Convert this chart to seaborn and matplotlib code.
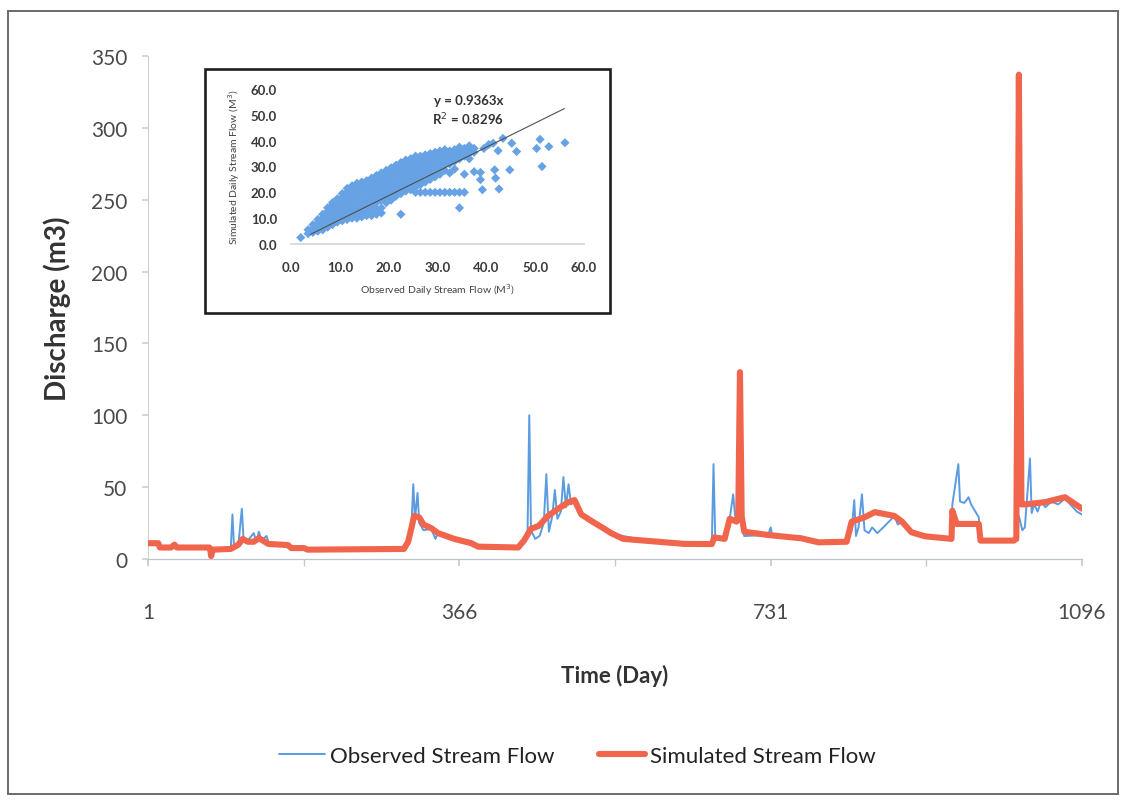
import numpy as np
import pandas as pd
import matplotlib
matplotlib.use("Agg")
import matplotlib.pyplot as plt
import seaborn as sns
from matplotlib.patches import Rectangle
from matplotlib.lines import Line2D

sns.set_theme(style="white")
plt.rcParams['font.family'] = ['Lato', 'DejaVu Sans']

# ---- daily discharge (day index, m3) ----
obs_day = [1, 13, 15, 73, 75, 77, 98, 100, 102, 107, 111, 113, 118, 125, 128, 131, 134, 140, 143,
           165, 169, 188, 301, 306, 310, 312, 314, 317, 319, 324, 333, 338, 341, 360, 380, 388,
           435, 442, 446, 448, 450, 455, 460, 465, 468, 471, 475, 478, 481, 485, 488, 491, 494,
           497, 501, 509, 521, 536, 544, 558, 575, 630, 662, 664, 666, 677, 683, 687, 690, 695,
           700, 728, 731, 733, 767, 787, 820, 826, 829, 831, 834, 838, 841, 846, 850, 856, 863,
           873, 876, 880, 885, 896, 912, 943, 944, 951, 953, 958, 963, 966, 975, 977, 1016,
           1019, 1022, 1026, 1029, 1035, 1037, 1040, 1044, 1048, 1053, 1060, 1068, 1076, 1090, 1096]
obs_flow = [11, 11, 8, 8, 2, 6.5, 7, 31, 7, 10, 35, 14, 13, 18, 12, 19, 13, 16, 10,
            9.7, 7.6, 6.5, 7, 12, 25, 52, 28, 46, 25, 20, 21, 14, 18, 14, 11, 8.6,
            8, 13, 20, 100, 20, 14, 16, 25, 59, 19, 30, 48, 28, 33, 57, 36, 52,
            38, 40, 31, 26.4, 21, 18, 16, 14, 10.5, 10.4, 66, 15, 14, 28, 45, 26, 28,
            16, 16.7, 22, 16, 14.4, 11.6, 12, 20, 41, 16, 22, 45, 20, 18, 22, 18, 22,
            28, 30, 24, 26, 18.6, 15.8, 14, 38, 66, 40, 39, 43, 38, 29, 12.8, 12.8,
            14, 30, 20, 22, 70, 32, 38, 33, 40, 36, 40, 38, 42, 33, 31]

sim_day = [1, 13, 15, 28, 32, 35, 73, 74, 75, 77, 98, 107, 112, 118, 125, 131, 142, 165, 169, 184,
           188, 301, 306, 310, 313, 319, 324, 333, 341, 360, 380, 388, 435, 442, 450, 459, 470,
           482, 494, 501, 509, 521, 536, 544, 558, 630, 662, 665, 677, 683, 691, 693, 695, 697,
           700, 728, 767, 787, 820, 826, 841, 853, 876, 885, 896, 912, 943, 944, 949, 975, 977,
           1016, 1019, 1022, 1025, 1029, 1053, 1076, 1096]
sim_flow = [11, 11, 8, 8, 10, 8, 8, 6.5, 2, 6.5, 7, 10, 14, 12, 12, 14.5, 10.5, 9.7, 7.6, 7.6,
            6.5, 7, 12, 22, 30, 29, 24, 21.5, 18, 14, 11, 8.6, 8, 13, 21, 23, 30,
            35, 39.6, 41, 31, 26.4, 21, 18, 14, 10.5, 10.4, 15, 14, 28, 26, 30, 130, 30,
            19, 16.7, 14.4, 11.6, 12, 26, 29, 32.6, 30, 26, 18.6, 15.8, 14, 33.6, 24.4, 24.4, 12.8,
            12.8, 14, 337, 38, 38, 39.6, 43, 35]

x_ticks = [1, 366, 731, 1096]
x_minor = [183.5, 548.5, 913.5]
y_ticks = [0, 50, 100, 150, 200, 250, 300, 350]

# ---- observed vs simulated scatter (columns of simulated values per observed value) ----
inset_obs_x = [2.0, 3.5, 4.5, 5.5, 6.5, 7.5, 8.5, 9.5, 10.5, 11.5, 12.5, 13.5, 14.5, 15.5, 16.5,
               17.5, 18.5, 19.5, 20.5, 21.5, 22.5, 23.5, 24.5, 25.5, 26.5, 27.5, 28.5, 29.5,
               30.5, 31.5, 32.5, 33.5, 34.5, 35.5, 36.5, 37.5]
inset_sim_y = [
    [2.5],
    [4.0, 5.5],
    [4.5, 6.0, 7.5],
    [5.0, 6.5, 8.0, 9.5],
    [5.5, 7.0, 8.5, 10.0, 11.5],
    [6.5, 8.0, 9.5, 11.0, 12.5, 14.0],
    [7.5, 9.0, 10.5, 12.0, 13.5, 15.0, 16.0],
    [8.5, 10.0, 11.5, 13.0, 14.5, 16.0, 17.5],
    [9.0, 10.5, 12.0, 13.5, 15.0, 16.5, 18.0, 19.5],
    [9.5, 11.0, 12.5, 14.0, 15.5, 17.0, 18.5, 20.0, 21.5],
    [10.0, 11.5, 13.0, 15.0, 17.0, 18.5, 20.0, 21.5, 22.5],
    [10.0, 11.5, 13.5, 15.5, 17.5, 19.0, 20.5, 22.0, 23.5],
    [10.5, 12.0, 14.0, 16.0, 18.0, 19.5, 21.0, 22.5, 24.0],
    [11.0, 12.5, 14.5, 16.5, 18.5, 20.0, 21.5, 23.0, 24.5],
    [11.0, 13.0, 15.0, 17.5, 19.5, 21.0, 22.5, 24.0, 25.5],
    [11.5, 13.5, 16.0, 18.0, 20.0, 22.0, 23.5, 25.0, 26.5],
    [12.0, 14.0, 17.0, 19.0, 21.0, 23.0, 24.5, 26.0, 27.5],
    [16.0, 18.0, 20.0, 22.0, 24.0, 25.5, 27.0, 28.5],
    [17.0, 19.0, 21.0, 23.0, 25.0, 26.5, 28.0, 29.5],
    [18.5, 20.5, 22.5, 24.5, 26.0, 27.5, 29.0, 30.5],
    [11.5, 19.5, 21.5, 23.5, 25.5, 27.0, 28.5, 30.0, 31.5],
    [20.5, 22.5, 24.5, 26.5, 28.0, 29.5, 31.0, 32.5],
    [21.0, 23.0, 25.0, 27.0, 29.0, 30.5, 32.0, 33.0],
    [20.0, 22.0, 24.0, 26.0, 28.0, 30.0, 31.5, 33.0, 34.0],
    [20.0, 23.0, 25.0, 27.0, 29.0, 31.0, 32.5, 34.0],
    [20.0, 24.0, 26.0, 28.0, 30.0, 32.0, 33.5, 34.5],
    [20.0, 25.0, 27.0, 29.0, 31.0, 33.0, 34.5, 35.0],
    [20.0, 26.0, 28.0, 30.5, 32.5, 34.0, 35.5],
    [20.0, 27.0, 29.5, 31.5, 33.5, 35.0, 36.0],
    [20.0, 28.5, 30.5, 32.5, 34.0, 35.5, 36.5],
    [20.0, 27.5, 31.0, 33.0, 34.5, 36.0],
    [20.0, 29.0, 32.0, 34.0, 35.5, 36.5],
    [14.0, 20.0, 33.0, 35.0, 36.5, 37.5],
    [20.0, 27.0, 34.0, 35.5, 37.0],
    [33.0, 35.0, 36.5, 38.0],
    [28.0, 35.5, 37.0],
]
extra_obs = [38.8, 39.2, 41.7, 41.9, 42.6, 44.8, 42.4, 43.4, 45.2, 46.2, 39.5, 41.4, 40.5,
             50.3, 51.0, 52.8, 51.4, 56.1, 38.8]
extra_sim = [24.9, 21.0, 28.7, 25.5, 21.3, 28.7, 36.1, 40.9, 39.0, 35.8, 37.0, 39.0, 38.5,
             37.0, 40.5, 37.7, 30.0, 39.2, 27.7]
trend_slope = 0.9363
r_squared = 0.8296
inset_ticks = [0, 10, 20, 30, 40, 50, 60]

BLUE = "#5b9be0"
RED = "#f0654c"
W, H = 1126, 803

fig = plt.figure(figsize=(W / 100, H / 100), dpi=100)
fig.patch.set_facecolor("white")

# outer frame
fig.patches.append(Rectangle((8 / W, 1 - 795 / H), (1118 - 8) / W, (795 - 12) / H,
                             transform=fig.transFigure, fill=False, edgecolor="#6a6a6a",
                             linewidth=1.4, zorder=0))

# ---- main hydrograph ----
ax = fig.add_axes([148 / W, 1 - 560 / H, (1082 - 148) / W, (560 - 57) / H])
obs_df = pd.DataFrame({"Day": obs_day, "Discharge": obs_flow})
sim_df = pd.DataFrame({"Day": sim_day, "Discharge": sim_flow})
sns.lineplot(data=obs_df, x="Day", y="Discharge", ax=ax, color=BLUE, linewidth=1.4,
             estimator=None, sort=False, zorder=2)
sns.lineplot(data=sim_df, x="Day", y="Discharge", ax=ax, color=RED, linewidth=4.4,
             estimator=None, sort=False, zorder=3)

ax.set_xlim(1, 1096)
ax.set_ylim(0, 350)
ax.set_xticks(x_ticks)
ax.set_xticks(x_minor, minor=True)
ax.set_xticklabels([str(t) for t in x_ticks])
ax.set_yticks(y_ticks)
ax.set_yticklabels([str(t) for t in y_ticks])
for s in ("top", "right"):
    ax.spines[s].set_visible(False)
ax.spines["left"].set_color("#d0d0d0")
ax.spines["bottom"].set_color("#b9c6cc")
ax.spines["left"].set_linewidth(0.8)
ax.spines["bottom"].set_linewidth(0.9)
ax.tick_params(axis="y", which="major", length=4, color="#d0d0d0", labelsize=15,
               labelcolor="#4a4a4a", pad=11, left=True)
ax.tick_params(axis="x", which="both", length=5, color="#c8c8c8", labelsize=15,
               labelcolor="#4a4a4a", pad=26, bottom=True, direction="out")
ax.set_xlabel("Time (Day)", fontsize=16, fontweight="bold", color="#333333", labelpad=30)
ax.set_ylabel("Discharge (m3)", fontsize=20, fontweight="bold", color="#333333", labelpad=14)
ax.patch.set_alpha(0)

# legend
handles = [Line2D([], [], color=BLUE, lw=1.4), Line2D([], [], color=RED, lw=4.4)]
fig.legend(handles, ["Observed Stream Flow", "Simulated Stream Flow"], loc="center",
           bbox_to_anchor=(577 / W, 1 - 757 / H), ncol=2, frameon=False, fontsize=16,
           handlelength=2.1, handletextpad=0.2, columnspacing=2.0,
           labelcolor="#222222")

# ---- inset scatter ----
fig.patches.append(Rectangle((205 / W, 1 - 314 / H), (610 - 205) / W, (314 - 70) / H,
                             transform=fig.transFigure, fill=True, facecolor="white",
                             edgecolor="#1e1e1e", linewidth=1.9, zorder=4))
ins = fig.add_axes([291 / W, 1 - 245 / H, (584 - 291) / W, (245 - 90) / H], zorder=5)
ins.patch.set_alpha(0)
pts_x = [x for x, col in zip(inset_obs_x, inset_sim_y) for _ in col] + extra_obs
pts_y = [y for col in inset_sim_y for y in col] + extra_sim
sns.scatterplot(x=pts_x, y=pts_y, ax=ins, marker="D", s=22, color="#66a2e4",
                edgecolor="none", linewidth=0, zorder=3)
tx = np.array([4.0, 56.0])
ins.plot(tx, trend_slope * tx, color="#505050", linewidth=0.8, zorder=4)
ins.set_xlim(0, 60)
ins.set_ylim(0, 60)
ins.set_xticks(inset_ticks)
ins.set_yticks(inset_ticks)
ins.set_xticklabels([f"{t:.1f}" for t in inset_ticks])
ins.set_yticklabels([f"{t:.1f}" for t in inset_ticks])
for s in ("top", "right", "left"):
    ins.spines[s].set_visible(False)
ins.spines["bottom"].set_color("#d6d6d6")
ins.tick_params(axis="both", length=0, labelsize=9.5, labelcolor="#3a3a3a")
ins.tick_params(axis="x", pad=12)
ins.tick_params(axis="y", pad=10)
for lbl in ins.get_xticklabels() + ins.get_yticklabels():
    lbl.set_fontweight("bold")
ins.set_xlabel("Observed Daily Stream Flow (M$^3$)", fontsize=7.5, color="#444444", labelpad=6)
ins.set_ylabel("Simulated Daily Stream Flow (M$^3$)", fontsize=7.5, color="#444444", labelpad=6)
ins.text(0.605, 0.93, f"y = {trend_slope}x", transform=ins.transAxes, fontsize=9.5,
         fontweight="bold", color="#333333", ha="center", va="center")
ins.text(0.605, 0.81, f"R$^2$ = {r_squared}", transform=ins.transAxes, fontsize=9.5,
         fontweight="bold", color="#333333", ha="center", va="center")

fig.savefig("out.png", dpi=100, facecolor="white")
